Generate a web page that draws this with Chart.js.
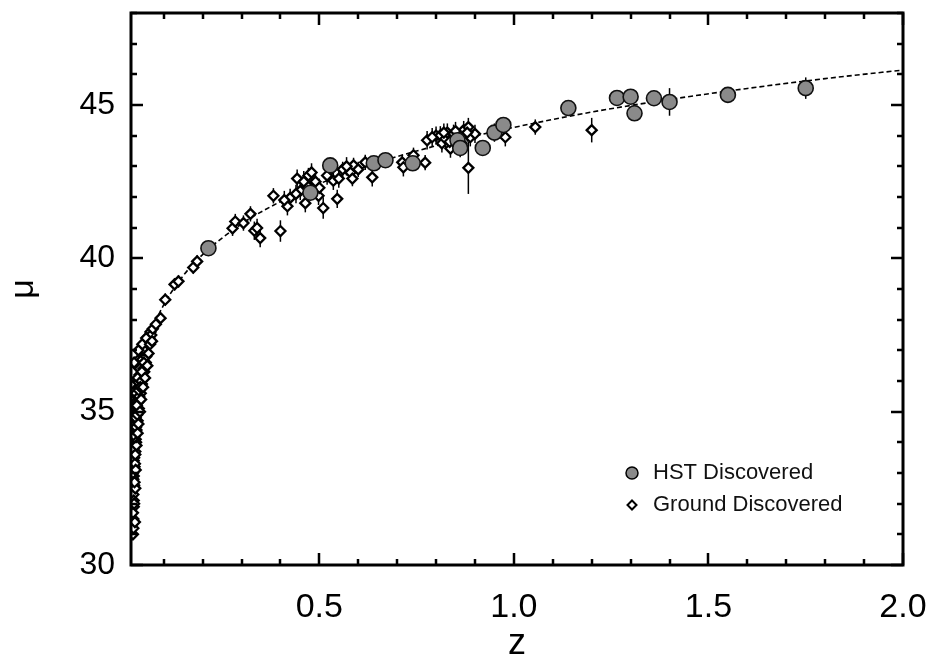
<!DOCTYPE html>
<html>
<head>
<meta charset="utf-8">
<script src="https://cdn.jsdelivr.net/npm/chart.js@4.4.0/dist/chart.umd.min.js"></script>
<style>
  html, body { margin: 0; padding: 0; background: #fff; }
  #wrap { width: 932px; height: 662px; position: relative; }
</style>
</head>
<body>
<div id="wrap"><canvas id="hubble"></canvas></div>
<script>
// --- DATA ---
const hstZ   = [0.215, 0.477, 0.528, 0.640, 0.670, 0.740, 0.855, 0.862, 0.920, 0.950, 0.973, 1.140, 1.265, 1.300, 1.310, 1.360, 1.400, 1.550, 1.750];
const hstMu  = [40.33, 42.14, 43.03, 43.10, 43.20, 43.10, 43.85, 43.60, 43.60, 44.10, 44.35, 44.90, 45.23, 45.27, 44.73, 45.22, 45.10, 45.33, 45.55];
const hstErr = [0.20, 0.25, 0.25, 0.20, 0.20, 0.25, 0.30, 0.30, 0.25, 0.30, 0.25, 0.25, 0.25, 0.25, 0.25, 0.25, 0.45, 0.25, 0.35];

const groundZ = [
  0.021, 0.022, 0.023, 0.022, 0.024, 0.023, 0.025, 0.024, 0.027, 0.025,
  0.028, 0.024, 0.030, 0.026, 0.033, 0.025, 0.031, 0.036, 0.027, 0.038,
  0.031, 0.041, 0.028, 0.035, 0.044, 0.032, 0.046, 0.038, 0.050, 0.030,
  0.042, 0.054, 0.036, 0.047, 0.058, 0.040, 0.052, 0.062, 0.060, 0.066,
  0.022, 0.021, 0.023, 0.022, 0.021, 0.023, 0.026, 0.022, 0.025, 0.029,
  0.023, 0.028, 0.032, 0.026, 0.034, 0.029, 0.037, 0.033, 0.043, 0.039,
  0.048, 0.045, 0.055, 0.050, 0.057, 0.045, 0.063, 0.068, 0.024, 0.035,
  0.026, 0.024, 0.027, 0.025, 0.028, 0.027, 0.030, 0.029, 0.033, 0.035,
  0.031, 0.039, 0.036, 0.042, 0.040, 0.047, 0.044, 0.052, 0.049, 0.058,
  0.061, 0.055, 0.065, 0.070,
  0.072, 0.080, 0.092, 0.104, 0.128, 0.138, 0.176, 0.186, 0.277, 0.284,
  0.305, 0.323, 0.333, 0.340, 0.348, 0.400, 0.382, 0.425, 0.418, 0.443,
  0.472, 0.469, 0.451, 0.464, 0.510, 0.546, 0.498, 0.536, 0.490, 0.520,
  0.560, 0.580, 0.585, 0.588, 0.600, 0.618, 0.636, 0.713, 0.716, 0.742,
  0.772, 0.777, 0.800, 0.811, 0.815, 0.824, 0.837, 0.829, 0.845, 0.860,
  0.871, 0.883, 0.888, 0.883, 0.900, 0.978, 1.055, 1.200,
  0.410, 0.440, 0.460, 0.480, 0.500, 0.530, 0.550, 0.570, 0.790, 0.820,
  0.835, 0.850, 0.865, 0.880
];
const groundMu = [
  31.00, 31.50, 31.90, 32.30, 32.60, 32.90, 33.20, 33.50, 33.70, 33.90,
  34.10, 34.30, 34.40, 34.60, 34.70, 34.90, 35.00, 35.10, 35.30, 35.40,
  35.50, 35.60, 35.70, 35.80, 35.90, 36.00, 36.10, 36.20, 36.30, 36.50,
  36.50, 36.60, 36.70, 36.80, 36.90, 37.00, 37.10, 37.20, 37.45, 37.60,
  31.20, 31.70, 32.10, 32.80, 33.00, 33.40, 33.30, 33.80, 34.20, 34.00,
  34.80, 34.80, 34.90, 35.20, 35.30, 35.60, 35.50, 36.10, 36.00, 36.40,
  36.40, 36.70, 36.80, 37.00, 37.30, 37.20, 37.40, 37.50, 36.60, 37.00,
  31.40, 32.00, 32.50, 32.70, 33.10, 33.60, 33.90, 34.50, 34.30, 34.60,
  35.20, 35.00, 35.70, 35.40, 35.80, 35.80, 36.30, 36.10, 36.60, 36.50,
  36.90, 37.40, 37.20, 37.30,
  37.70, 37.85, 38.05, 38.65, 39.15, 39.25, 39.70, 39.90, 40.98, 41.20,
  41.15, 41.45, 40.90, 40.99, 40.66, 40.89, 42.04, 41.97, 41.70, 42.60,
  42.70, 42.37, 42.20, 41.80, 41.64, 41.94, 42.04, 42.53, 42.50, 42.70,
  42.90, 42.80, 42.60, 43.03, 42.90, 43.13, 42.64, 43.13, 42.97, 43.36,
  43.12, 43.85, 44.00, 44.01, 43.75, 43.90, 43.58, 44.10, 44.06, 43.90,
  44.18, 44.28, 43.95, 42.95, 44.06, 43.95, 44.28, 44.18,
  41.90, 42.10, 42.50, 42.80, 42.30, 42.90, 42.60, 43.00, 43.95, 44.10,
  43.80, 44.15, 43.75, 44.10
];
const groundErr = [
  0.15, 0.15, 0.15, 0.15, 0.15, 0.15, 0.15, 0.15, 0.15, 0.15,
  0.15, 0.15, 0.15, 0.15, 0.15, 0.15, 0.15, 0.15, 0.15, 0.15,
  0.15, 0.15, 0.15, 0.15, 0.15, 0.15, 0.15, 0.15, 0.15, 0.15,
  0.15, 0.15, 0.15, 0.15, 0.15, 0.15, 0.15, 0.15, 0.15, 0.15,
  0.15, 0.15, 0.15, 0.15, 0.15, 0.15, 0.15, 0.15, 0.15, 0.15,
  0.15, 0.15, 0.15, 0.15, 0.15, 0.15, 0.15, 0.15, 0.15, 0.15,
  0.15, 0.15, 0.15, 0.15, 0.15, 0.15, 0.15, 0.15, 0.15, 0.15,
  0.15, 0.15, 0.15, 0.15, 0.15, 0.15, 0.15, 0.15, 0.15, 0.15,
  0.15, 0.15, 0.15, 0.15, 0.15, 0.15, 0.15, 0.15, 0.15, 0.15,
  0.15, 0.15, 0.15, 0.15,
  0.15, 0.15, 0.15, 0.20, 0.20, 0.20, 0.20, 0.20, 0.25, 0.25,
  0.25, 0.25, 0.30, 0.30, 0.30, 0.35, 0.25, 0.30, 0.30, 0.30,
  0.25, 0.30, 0.30, 0.30, 0.35, 0.30, 0.30, 0.30, 0.30, 0.30,
  0.25, 0.25, 0.25, 0.25, 0.25, 0.25, 0.30, 0.25, 0.30, 0.25,
  0.25, 0.30, 0.30, 0.30, 0.30, 0.30, 0.30, 0.30, 0.30, 0.30,
  0.30, 0.30, 0.30, 0.85, 0.30, 0.30, 0.25, 0.40,
  0.30, 0.30, 0.35, 0.30, 0.30, 0.30, 0.30, 0.30, 0.30, 0.30,
  0.30, 0.30, 0.30, 0.30
];

// dashed model curve
const curveZ  = [0.016, 0.02, 0.03, 0.05, 0.07, 0.10, 0.15, 0.20, 0.30, 0.40, 0.50, 0.60, 0.70, 0.80, 0.90, 1.00, 1.20, 1.40, 1.60, 1.80, 2.00];
const curveMu = [34.37, 34.84, 35.76, 36.90, 37.66, 38.48, 39.43, 40.12, 41.12, 41.85, 42.43, 42.91, 43.32, 43.67, 43.99, 44.27, 44.77, 45.18, 45.54, 45.86, 46.14];

const xMin = 0.016, xMax = 2.0, xStep = 0.5, xMinor = 0.1;
const yMin = 30, yMax = 48, yStep = 5, yMinor = 1;

const legendLabels = ['HST Discovered', 'Ground Discovered'];

// --- HELPERS ---
const toPoints = (xs, ys) => xs.map((x, i) => ({ x: x, y: ys[i] }));
const FONT = '"Liberation Sans", Arial, Helvetica, sans-serif';

// error bars under the markers
const errorBars = {
  id: 'errorBars',
  beforeDatasetsDraw(chart) {
    const { ctx, scales: { x, y } } = chart;
    const a = chart.chartArea;
    ctx.save();
    ctx.beginPath();
    ctx.rect(a.left, a.top, a.right - a.left, a.bottom - a.top);
    ctx.clip();
    ctx.strokeStyle = '#000';
    ctx.lineWidth = 1.5;
    const draw = (zs, mus, errs) => {
      zs.forEach((z, i) => {
        const px = x.getPixelForValue(z);
        ctx.beginPath();
        ctx.moveTo(px, y.getPixelForValue(mus[i] - errs[i]));
        ctx.lineTo(px, y.getPixelForValue(mus[i] + errs[i]));
        ctx.stroke();
      });
    };
    draw(groundZ, groundMu, groundErr);
    draw(hstZ, hstMu, hstErr);
    ctx.restore();
  }
};

// box round the plot with inward ticks on all four sides, plus the legend
const frame = {
  id: 'frame',
  afterDraw(chart) {
    const { ctx, scales: { x, y } } = chart;
    const a = chart.chartArea;
    ctx.save();
    ctx.strokeStyle = '#000';
    ctx.lineWidth = 2.5;
    for (let k = Math.ceil(xMin / xMinor); k * xMinor <= xMax + 1e-9; k++) {
      const v = k * xMinor;
      const px = Math.round(x.getPixelForValue(v));
      const len = Math.abs(v / xStep - Math.round(v / xStep)) < 1e-6 ? 12 : 6;
      ctx.beginPath();
      ctx.moveTo(px, a.bottom); ctx.lineTo(px, a.bottom - len);
      ctx.moveTo(px, a.top); ctx.lineTo(px, a.top + len);
      ctx.stroke();
    }
    for (let v = yMin; v <= yMax; v += yMinor) {
      const py = Math.round(y.getPixelForValue(v));
      const len = v % yStep === 0 ? 12 : 6;
      ctx.beginPath();
      ctx.moveTo(a.left, py); ctx.lineTo(a.left + len, py);
      ctx.moveTo(a.right, py); ctx.lineTo(a.right - len, py);
      ctx.stroke();
    }
    ctx.lineWidth = 3;
    ctx.strokeRect(a.left, a.top, a.right - a.left, a.bottom - a.top);

    // legend
    const lx = 632, ly = [473, 505];
    ctx.lineWidth = 1.5;
    ctx.fillStyle = '#8a8a8a';
    ctx.beginPath();
    ctx.arc(lx, ly[0], 6, 0, Math.PI * 2);
    ctx.fill(); ctx.stroke();
    ctx.fillStyle = '#fff';
    ctx.lineWidth = 2;
    ctx.beginPath();
    ctx.moveTo(lx, ly[1] - 4.5); ctx.lineTo(lx + 4.5, ly[1]);
    ctx.lineTo(lx, ly[1] + 4.5); ctx.lineTo(lx - 4.5, ly[1]);
    ctx.closePath();
    ctx.fill(); ctx.stroke();
    ctx.fillStyle = '#111';
    ctx.font = '22px ' + FONT;
    ctx.textBaseline = 'middle';
    ctx.fillText(legendLabels[0], 653, ly[0]);
    ctx.fillText(legendLabels[1], 653, ly[1]);
    ctx.restore();
  }
};

// fixed axis boxes, no automatic label padding
const fixBox = size => s => {
  if (s.isHorizontal()) s.height = size; else s.width = size;
  s.paddingTop = 0; s.paddingBottom = 0; s.paddingLeft = 0; s.paddingRight = 0;
};

new Chart(document.getElementById('hubble'), {
  type: 'scatter',
  data: {
    datasets: [
      {
        label: 'model', type: 'line', order: 3,
        data: toPoints(curveZ, curveMu),
        borderColor: '#000', borderWidth: 1.6, borderDash: [5, 3],
        pointRadius: 0, fill: false, cubicInterpolationMode: 'monotone'
      },
      {
        label: legendLabels[1], order: 2,
        data: toPoints(groundZ, groundMu),
        pointStyle: 'rectRot', pointRadius: 5,
        backgroundColor: '#fff', borderColor: '#000', borderWidth: 2.3
      },
      {
        label: legendLabels[0], order: 1,
        data: toPoints(hstZ, hstMu),
        pointStyle: 'circle', pointRadius: 7.5,
        backgroundColor: '#8a8a8a', borderColor: '#111', borderWidth: 1.6
      }
    ]
  },
  options: {
    responsive: true,
    maintainAspectRatio: false,
    animation: false,
    layout: { padding: { left: 0, top: 13, right: 29, bottom: 0 } },
    plugins: { legend: { display: false }, tooltip: { enabled: false } },
    scales: {
      x: {
        type: 'linear', min: xMin, max: xMax,
        grid: { display: false, drawTicks: false },
        border: { display: false },
        ticks: {
          stepSize: xStep, includeBounds: false, padding: 22, color: '#000',
          font: { family: FONT, size: 34 },
          callback: v => v.toFixed(1)
        },
        title: { display: true, text: 'z', color: '#000', font: { family: FONT, size: 36, lineHeight: 1 }, padding: 0 },
        afterFit: fixBox(97)
      },
      y: {
        type: 'linear', min: yMin, max: yMax,
        grid: { display: false, drawTicks: false },
        border: { display: false },
        ticks: {
          stepSize: yStep, includeBounds: false, padding: 16, color: '#000',
          font: { family: FONT, size: 32 }
        },
        title: { display: true, text: 'μ', color: '#000', font: { family: FONT, size: 34 }, padding: { top: 3, bottom: 0 } },
        afterFit: fixBox(131)
      }
    }
  },
  plugins: [errorBars, frame]
});
</script>
</body>
</html>
